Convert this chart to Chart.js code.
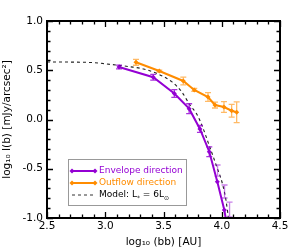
<!DOCTYPE html>
<html><head><meta charset="utf-8">
<script src="https://cdn.jsdelivr.net/npm/chart.js@4"></script>
<style>html,body{margin:0;padding:0;background:#fff;overflow:hidden}</style>
</head><body>
<canvas id="c" width="293" height="249" style="width:293px;height:249px;display:block"></canvas>
<script>
// ---- data ----
const xTicks = [2.5, 3.0, 3.5, 4.0, 4.5];
const yTicks = [-1.0, -0.5, 0.0, 0.5, 1.0];

const envX   = [3.118, 3.412, 3.593, 3.720, 3.813, 3.893, 3.962, 4.022, 4.048];
const envY   = [0.533, 0.429, 0.264, 0.110, -0.096, -0.327, -0.631, -0.919, -1.10];
const envErr = [0.02, 0.03, 0.04, 0.05, 0.035, 0.05, 0, 0, 0];

const envExtraX   = [3.964, 4.024, 4.067];
const envExtraY   = [-0.518, -0.731, -0.914];
const envExtraErr = [0.056, 0.066, 0.076];

const outX   = [3.264, 3.464, 3.670, 3.764, 3.882, 3.942, 4.019, 4.085, 4.128];
const outY   = [0.581, 0.492, 0.391, 0.300, 0.228, 0.147, 0.127, 0.089, 0.073];
const outErr = [0.03, 0.01, 0.04, 0.015, 0.045, 0.03, 0.055, 0.065, 0.105];

const modelX = [2.5, 2.7, 2.9, 3.04, 3.21, 3.33, 3.44, 3.57, 3.656, 3.727, 3.785, 3.83, 3.891, 3.957, 4.005, 4.036, 4.056, 4.07];
const modelY = [0.584, 0.583, 0.577, 0.560, 0.536, 0.513, 0.469, 0.384, 0.282, 0.147, 0.055, -0.06, -0.259, -0.479, -0.648, -0.817, -0.987, -1.10];

const legendLabels = ['Envelope direction', 'Outflow direction', 'Model: L'];

const PURPLE = '#9400D3', ORANGE = '#FF8C00';
const FONT = 'DejaVu Sans';

const pts = (xs, ys) => xs.map((x, i) => ({x, y: ys[i]}));

const errorBars = {
  id: 'errorBars',
  afterDatasetsDraw(chart) {
    const {ctx, chartArea: a, scales: {x, y}} = chart;
    ctx.save();
    ctx.beginPath(); ctx.rect(a.left, a.top, a.right - a.left, a.bottom - a.top); ctx.clip();
    const draw = (xs, ys, es, color) => {
      ctx.strokeStyle = color; ctx.lineWidth = 1.3;
      xs.forEach((xv, i) => {
        if (!es[i]) return;
        const px = x.getPixelForValue(xv);
        const p1 = y.getPixelForValue(ys[i] + es[i]);
        const p2 = y.getPixelForValue(ys[i] - es[i]);
        ctx.beginPath();
        ctx.moveTo(px, p1); ctx.lineTo(px, p2);
        ctx.moveTo(px - 3, p1); ctx.lineTo(px + 3, p1);
        ctx.moveTo(px - 3, p2); ctx.lineTo(px + 3, p2);
        ctx.stroke();
      });
    };
    draw(envX, envY, envErr, 'rgba(148,0,211,0.8)');
    draw(envExtraX, envExtraY, envExtraErr, 'rgba(148,0,211,0.5)');
    draw(outX, outY, outErr, 'rgba(255,140,0,0.6)');
    ctx.restore();
  }
};

const frame = {
  id: 'frame',
  afterDraw(chart) {
    const {ctx, chartArea: a, scales: {x, y}} = chart;
    ctx.save();
    ctx.strokeStyle = '#000';
    ctx.lineWidth = 1.3;
    for (let k = 0; k <= 20; k++) {
      const v = 2.5 + k * 0.1;
      const px = Math.round(x.getPixelForValue(v)) + 0.5;
      const len = (k % 5 === 0) ? 6 : 3.5;
      ctx.beginPath();
      ctx.moveTo(px, a.bottom); ctx.lineTo(px, a.bottom - len);
      ctx.moveTo(px, a.top); ctx.lineTo(px, a.top + len);
      ctx.stroke();
    }
    for (let k = 0; k <= 20; k++) {
      const v = -1 + k * 0.1;
      const py = Math.round(y.getPixelForValue(v)) + 0.5;
      const len = (k % 5 === 0) ? 6 : 3.5;
      ctx.beginPath();
      ctx.moveTo(a.left, py); ctx.lineTo(a.left + len, py);
      ctx.moveTo(a.right, py); ctx.lineTo(a.right - len, py);
      ctx.stroke();
    }
    ctx.lineWidth = 2;
    ctx.strokeRect(a.left, a.top, a.right - a.left, a.bottom - a.top);

    // legend
    const bx = 68.5, by = 159.5, bw = 118, bh = 46;
    ctx.fillStyle = 'rgba(255,255,255,0.9)';
    ctx.fillRect(bx, by, bw, bh);
    ctx.strokeStyle = '#999'; ctx.lineWidth = 1;
    ctx.strokeRect(bx, by, bw, bh);
    const rows = [171, 183, 195];
    const cols = [PURPLE, ORANGE, '#000'];
    ctx.font = '9px "' + FONT + '"';
    ctx.textBaseline = 'middle';
    const diamond = (cx, cy, r) => {
      ctx.beginPath();
      ctx.moveTo(cx, cy - r); ctx.lineTo(cx + r, cy); ctx.lineTo(cx, cy + r); ctx.lineTo(cx - r, cy);
      ctx.closePath(); ctx.fill();
    };
    for (let i = 0; i < 3; i++) {
      const yy = rows[i];
      ctx.strokeStyle = cols[i]; ctx.fillStyle = cols[i];
      if (i < 2) {
        ctx.lineWidth = 2;
        ctx.setLineDash([]);
        ctx.beginPath(); ctx.moveTo(72, yy); ctx.lineTo(95, yy); ctx.stroke();
        diamond(72, yy, 2.5); diamond(95, yy, 2.5);
      } else {
        ctx.lineWidth = 1;
        ctx.strokeStyle = '#333';
        ctx.setLineDash([3, 3]);
        ctx.beginPath(); ctx.moveTo(72, yy); ctx.lineTo(95, yy); ctx.stroke();
        ctx.setLineDash([]);
      }
      ctx.fillStyle = cols[i];
      ctx.textAlign = 'left';
      ctx.fillText(legendLabels[i], 99, yy);
      if (i === 2) {
        let xx = 99 + ctx.measureText(legendLabels[i]).width;
        ctx.font = '6px "' + FONT + '"';
        ctx.fillText('*', xx, yy + 3);
        xx += ctx.measureText('*').width;
        ctx.font = '9px "' + FONT + '"';
        ctx.fillText(' = 6L', xx, yy);
        xx += ctx.measureText(' = 6L').width;
        ctx.font = '6px "' + FONT + '"';
        ctx.fillText('\u2299', xx, yy + 3);
        ctx.font = '9px "' + FONT + '"';
      }
    }
    ctx.restore();
  }
};

new Chart(document.getElementById('c'), {
  type: 'scatter',
  data: {
    datasets: [
      {label: 'Model', data: pts(modelX, modelY), showLine: true, borderColor: '#222', borderWidth: 1.1,
       borderDash: [3, 3], pointRadius: 0, fill: false, cubicInterpolationMode: 'monotone'},
      {label: 'Envelope direction', data: pts(envX, envY), showLine: true, borderColor: PURPLE, backgroundColor: PURPLE,
       borderWidth: 2, pointStyle: 'rectRot', pointRadius: 2.5, pointBorderWidth: 0},
      {label: 'Outflow direction', data: pts(outX, outY), showLine: true, borderColor: ORANGE, backgroundColor: ORANGE,
       borderWidth: 2, pointStyle: 'rectRot', pointRadius: 2.5, pointBorderWidth: 0}
    ]
  },
  options: {
    responsive: false, animation: false, devicePixelRatio: 1,
    layout: {padding: {left: 0, right: 13, top: 21, bottom: 0}},
    plugins: {legend: {display: false}, tooltip: {enabled: false}},
    scales: {
      x: {
        type: 'linear', min: 2.5, max: 4.5,
        afterBuildTicks: s => { s.ticks = xTicks.map(v => ({value: v})); },
        afterFit: s => { s.height = 31; },
        ticks: {color: '#000', font: {family: FONT, size: 10.5}, padding: 2, maxRotation: 0, autoSkip: false,
                callback: v => Number(v).toFixed(1)},
        grid: {display: false, drawTicks: false},
        border: {display: false},
        title: {display: true, text: 'log\u2081\u2080 (bb) [AU]', color: '#000', font: {family: FONT, size: 10.5}, padding: {top: 1, bottom: 0}}
      },
      y: {
        type: 'linear', min: -1, max: 1,
        afterBuildTicks: s => { s.ticks = yTicks.map(v => ({value: v})); },
        afterFit: s => { s.width = 47; },
        ticks: {color: '#000', font: {family: FONT, size: 10.5}, padding: 4, autoSkip: false,
                callback: v => Number(v).toFixed(1)},
        grid: {display: false, drawTicks: false},
        border: {display: false},
        title: {display: true, text: 'log\u2081\u2080 I(b) [mJy/arcsec\u00B2]', color: '#000', font: {family: FONT, size: 10.5}, padding: {top: 1, bottom: 0}}
      }
    }
  },
  plugins: [errorBars, frame]
});
</script>
</body></html>
